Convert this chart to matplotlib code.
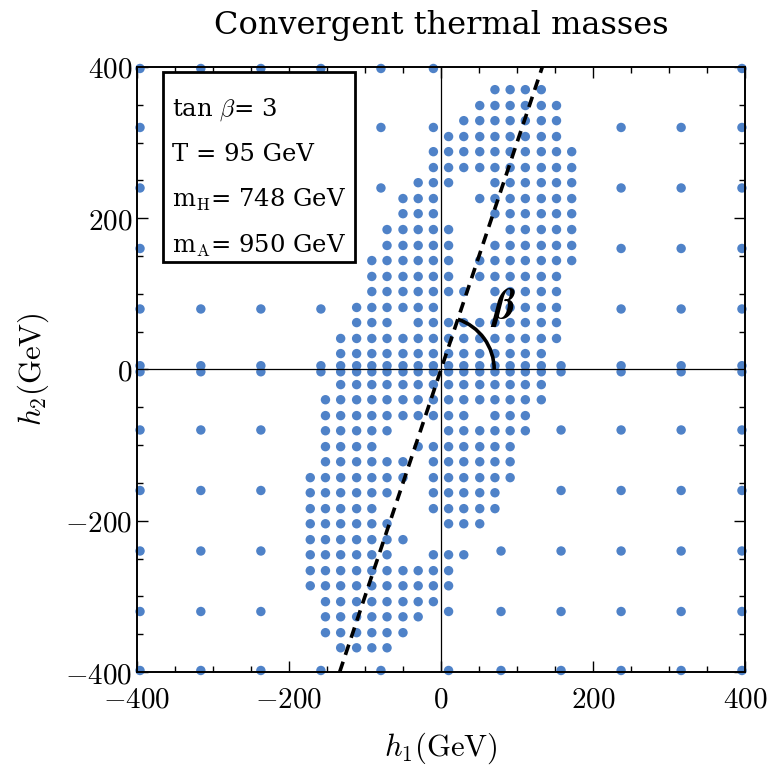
import numpy as np
import matplotlib
matplotlib.use("Agg")
import matplotlib.pyplot as plt
from matplotlib.patches import Arc, Rectangle
from matplotlib.ticker import MultipleLocator, FuncFormatter

plt.rcParams['mathtext.fontset'] = 'cm'
plt.rcParams['font.family'] = 'DejaVu Serif'

# fine sampling grid (GeV)
fine_x = [-172, -152, -132, -111, -91, -71, -50, -30, -10, 10, 30, 51, 71, 91, 111, 132, 152, 172]
fine_y = [370, 349, 329, 308, 288, 267, 247, 226, 206, 185, 164, 144, 123, 103, 82, 62, 41, 21,
          5, -3, -20, -40, -61, -81, -102, -122, -143, -163, -184, -204, -225, -245, -266, -286,
          -307, -327, -348, -368]
# 'o' = convergent point, one string per row of fine_y
fine_mask = [
    "............oooo..",
    "...........oooooo.",
    "..........ooooooo.",
    ".........oooooooo.",
    "........oooooooooo",
    "........oooooooooo",
    ".......ooo..oooooo",
    "......ooo..ooooooo",
    "......ooo...oooooo",
    ".....ooooo...ooooo",
    ".....ooooo..oooooo",
    "....oooooo.ooooooo",
    "....oooooo.oooooo.",
    "....ooooooo.ooooo.",
    "...oooooo...ooooo.",
    "...ooo.oooooooooo.",
    "..ooooooooooooooo.",
    "..oooooooooooooo..",
    "..oooooooooooooo..",
    "..oooooooooooooo..",
    "..oooooooooooooo..",
    ".ooooooooooooooo..",
    ".oooooooooo.ooo...",
    ".ooooo...oooooo...",
    ".oooo..ooooooo....",
    ".oooooo.oooooo....",
    "ooooooo.oooooo....",
    "oooooo..ooooo.....",
    "ooooo...ooooo.....",
    "oooooo...ooo......",
    "ooooooo...........",
    "oooooo..ooo.......",
    "oooooooooo........",
    "oooooooooo........",
    ".oooooooo.........",
    ".ooooooo..........",
    ".oooooo...........",
    "..oooo............",
]

# coarse sampling grid (GeV)
coarse_x = [-396, -316, -237, -158, -79, -10, 10, 79, 158, 237, 316, 396]
coarse_y = [398, 320, 240, 160, 80, 5, -3, -80, -160, -240, -320, -398]
coarse_mask = [
    "oooooo.....o",
    "oooooo...ooo",
    "ooooo....ooo",
    "oooo.....ooo",
    "oooo.....ooo",
    "oooo....oooo",
    "oooo....oooo",
    "ooo.....oooo",
    "ooo.....oooo",
    "ooo....ooooo",
    "ooo...oooooo",
    "ooooo.oooooo",
]

tan_beta = 3
temperature = 95
m_H = 748
m_A = 950


def mask_points(xs, ys, mask):
    px, py = [], []
    for yv, row in zip(ys, mask):
        for xv, c in zip(xs, row):
            if c == 'o':
                px.append(xv)
                py.append(yv)
    return px, py


fx, fy = mask_points(fine_x, fine_y, fine_mask)
cx, cy = mask_points(coarse_x, coarse_y, coarse_mask)

fig = plt.figure(figsize=(7.67, 7.68), dpi=100)
ax = fig.add_axes([0.1786, 0.125, 0.7927, 0.7878])

dot_color = '#4f82c8'
ax.scatter(fx + cx, fy + cy, s=46, color=dot_color, edgecolors='none', zorder=2, clip_on=False)

ax.axhline(0, color='black', lw=0.9, zorder=3)
ax.axvline(0, color='black', lw=0.9, zorder=3)

# direction of tan(beta)
beta = np.arctan(tan_beta)
hx = np.array([-400, 400]) / tan_beta
ax.plot(hx, hx * tan_beta, color='black', lw=2.6, ls=(0, (3.0, 2.0)), zorder=4)
r = 70
ax.add_patch(Arc((0, 0), 2 * r, 2 * r, theta1=0, theta2=np.degrees(beta),
                 color='black', lw=2.6, zorder=4))
ax.text(82, 82, r'$\boldsymbol{\beta}$', fontsize=31, ha='center', va='center', zorder=5)

ax.set_xlim(-400, 400)
ax.set_ylim(-400, 400)

for axis in (ax.xaxis, ax.yaxis):
    axis.set_major_locator(MultipleLocator(200))
    axis.set_minor_locator(MultipleLocator(50))
    axis.set_major_formatter(FuncFormatter(lambda v, p: f'${v:.0f}$'))
ax.tick_params(which='both', direction='in', top=True, right=True, width=1.0, labelsize=21)
ax.tick_params(which='major', length=8)
ax.tick_params(which='minor', length=4)
ax.tick_params(axis='x', which='major', pad=10)
for sp in ax.spines.values():
    sp.set_linewidth(1.4)

ax.set_xlabel(r'$h_1(\mathrm{GeV})$', fontsize=22, labelpad=12)
ax.set_ylabel(r'$h_2(\mathrm{GeV})$', fontsize=22, labelpad=10)
ax.set_title('Convergent thermal masses', fontsize=23, pad=24)

# parameter box
ax.add_patch(Rectangle((0.043, 0.678), 0.316, 0.314, transform=ax.transAxes,
                       facecolor='white', edgecolor='black', lw=2, zorder=6))
lines = [
    rf'tan $\beta$= {tan_beta}',
    f'T = {temperature} GeV',
    rf'm$_\mathrm{{H}}$= {m_H} GeV',
    rf'm$_\mathrm{{A}}$= {m_A} GeV',
]
for i, s in enumerate(lines):
    ax.text(0.058, 0.93 - i * 0.075, s, transform=ax.transAxes, fontsize=17.5,
            va='center', ha='left', zorder=7)

fig.savefig('out.png', dpi=100)
